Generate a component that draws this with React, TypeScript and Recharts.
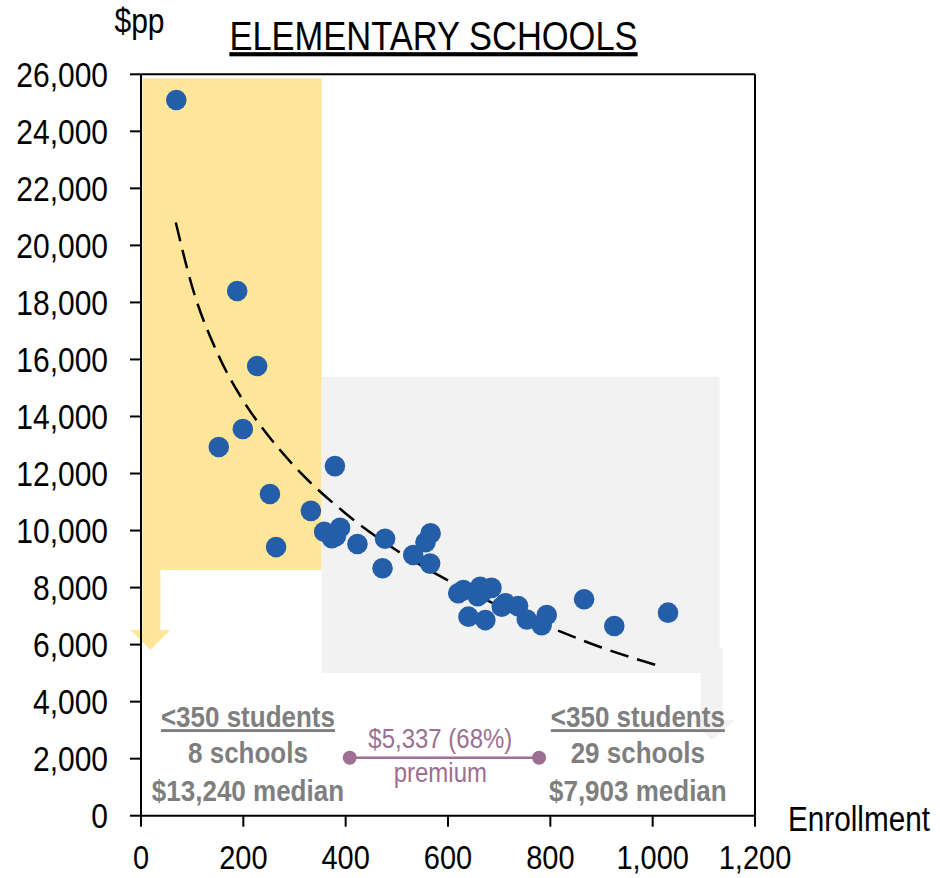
import React from "react";
import {
  ComposedChart,
  Scatter,
  Line,
  XAxis,
  YAxis,
  ReferenceArea,
  ReferenceLine,
  ReferenceDot,
} from "recharts";

const FONT = "'Liberation Sans', Arial, Helvetica, sans-serif";
const BLUE = "#255EA8";
const YELLOW = "#FFE699";
const GREY_FILL = "#F2F2F2";
const NOTE = "#7F7F7F";
const PURPLE = "#9C6F93";

// schools: enrollment vs spend per pupil
const enrollment = [
  69, 188, 227, 152, 199, 252, 264, 332, 379, 358, 373, 389, 381, 423, 477, 472,
  532, 556, 566, 565, 620, 630, 640, 663, 666, 658, 673, 685, 705, 712, 737, 754,
  783, 793, 866, 925, 1030,
];
const spendPerPupil = [
  25100, 18400, 15770, 12930, 13560, 11280, 9420, 10690, 12260, 9960, 9730, 10100,
  9800, 9530, 9710, 8680, 9140, 9590, 9900, 8840, 7800, 7910, 6980, 8030, 7800,
  7700, 6860, 7990, 7330, 7450, 7350, 6880, 6680, 7040, 7590, 6650, 7120,
];

// dashed trend line
const trendEnrollment = [68, 100, 150, 200, 250, 300, 400, 500, 600, 700, 800, 900, 1013];
const trendSpend = [20800, 18550, 16200, 14550, 13300, 12250, 10600, 9300, 8250, 7350, 6600, 5900, 5250];

const xTicks = [0, 200, 400, 600, 800, 1000, 1200];
const yTicks = [0, 2000, 4000, 6000, 8000, 10000, 12000, 14000, 16000, 18000, 20000, 22000, 24000, 26000];

// shaded bands (data units)
const smallBand = { x1: 3, x2: 353, y1: 8615, y2: 25860 };
const smallArrowStem = { x1: 3, x2: 38, y1: 6510, y2: 8615 };
const smallArrowHead = { x1: -21, x2: 57, tip: 18, y1: 5810, y2: 6510 };
const largeBand = { x1: 353, x2: 1131, y1: 5000, y2: 15390 };
const largeArrowStem = { x1: 1094, x2: 1137, y1: 3360, y2: 5880 };
const largeArrowHead = { x1: 1075, x2: 1160, tip: 1116, y1: 2655, y2: 3360 };

const leftNote = ["<350 students", "8 schools", "$13,240 median"];
const rightNote = ["<350 students", "29 schools", "$7,903 median"];
const noteAt = { leftX: 209, rightX: 971, y: 3110 };
const premiumNote = ["$5,337 (68%)", "premium"];
const premium = { x1: 408, x2: 778, mid: 585, y: 2034 };

const points = enrollment.map((x, i) => ({ x, y: spendPerPupil[i] }));
const trend = trendEnrollment.map((x, i) => ({ x, y: trendSpend[i] }));

const fmt = (v: number) => v.toLocaleString("en-US");

const YTick = (props: any) => {
  const { x, y, payload } = props;
  return (
    <text
      transform={`translate(${x},${y}) scale(1,1.17)`}
      textAnchor="end"
      dy="0.36em"
      fontSize={30}
      fontFamily={FONT}
      fill="#000"
    >
      {fmt(payload.value)}
    </text>
  );
};

const XTick = (props: any) => {
  const { x, y, payload } = props;
  return (
    <text
      transform={`translate(${x},${y}) scale(1,1.15)`}
      textAnchor="middle"
      dy="0.71em"
      fontSize={29}
      fontFamily={FONT}
      fill="#000"
    >
      {fmt(payload.value)}
    </text>
  );
};

// triangle drawn inside the ReferenceArea box, tip pointing down
const headShape = (head: { x1: number; x2: number; tip: number }, fill: string) => (p: any) => {
  const { x, y, width, height } = p;
  const tipX = x + ((head.tip - head.x1) / (head.x2 - head.x1)) * width;
  return (
    <polygon
      points={`${x},${y} ${x + width},${y} ${tipX},${y + height}`}
      fill={fill}
    />
  );
};

const noteBlock = (lines: string[]) => (p: any) => {
  const { cx, cy } = p;
  const offsets = [0, 36, 74];
  return (
    <g>
      {lines.map((t, i) => (
        <text
          key={i}
          transform={`translate(${cx},${cy + offsets[i]}) scale(1,1.12)`}
          textAnchor="middle"
          fontSize={26}
          fontWeight="bold"
          fontFamily={FONT}
          fill={NOTE}
          style={i === 0 ? { textDecoration: "underline" } : undefined}
        >
          {t}
        </text>
      ))}
    </g>
  );
};

const premiumBlock = (p: any) => {
  const { cx, cy } = p;
  return (
    <g>
      <text
        transform={`translate(${cx},${cy - 10}) scale(1,1.15)`}
        textAnchor="middle"
        fontSize={24}
        fontFamily={FONT}
        fill={PURPLE}
      >
        {premiumNote[0]}
      </text>
      <text
        transform={`translate(${cx},${cy + 24}) scale(1,1.15)`}
        textAnchor="middle"
        fontSize={24}
        fontFamily={FONT}
        fill={PURPLE}
      >
        {premiumNote[1]}
      </text>
    </g>
  );
};

export default function App() {
  return (
    <div style={{ position: "absolute", left: 0, top: 0, width: 940, height: 878, background: "#fff" }}>
      <ComposedChart
        width={940}
        height={878}
        margin={{ top: 74.3, right: 185, bottom: 12.3, left: 0 }}
      >
        <XAxis
          dataKey="x"
          type="number"
          domain={[0, 1200]}
          ticks={xTicks}
          interval={0}
          height={50}
          tickSize={11}
          tickMargin={19}
          axisLine={{ stroke: "#000", strokeWidth: 2 }}
          tickLine={{ stroke: "#000", strokeWidth: 2 }}
          tick={<XTick />}
        />
        <YAxis
          type="number"
          domain={[0, 26000]}
          ticks={yTicks}
          interval={0}
          width={141}
          tickSize={11}
          tickMargin={22}
          axisLine={{ stroke: "#000", strokeWidth: 2 }}
          tickLine={{ stroke: "#000", strokeWidth: 2 }}
          tick={<YTick />}
        />

        <ReferenceArea {...smallBand} fill={YELLOW} fillOpacity={1} ifOverflow="visible" />
        <ReferenceArea {...smallArrowStem} fill={YELLOW} fillOpacity={1} ifOverflow="visible" />
        <ReferenceArea
          x1={smallArrowHead.x1}
          x2={smallArrowHead.x2}
          y1={smallArrowHead.y1}
          y2={smallArrowHead.y2}
          ifOverflow="visible"
          shape={headShape(smallArrowHead, YELLOW)}
        />
        <ReferenceArea {...largeBand} fill={GREY_FILL} fillOpacity={1} ifOverflow="visible" />
        <ReferenceArea {...largeArrowStem} fill={GREY_FILL} fillOpacity={1} ifOverflow="visible" />
        <ReferenceArea
          x1={largeArrowHead.x1}
          x2={largeArrowHead.x2}
          y1={largeArrowHead.y1}
          y2={largeArrowHead.y2}
          ifOverflow="visible"
          shape={headShape(largeArrowHead, GREY_FILL)}
        />

        <ReferenceLine y={26000} stroke="#000" strokeWidth={2} ifOverflow="visible" />
        <ReferenceLine x={1200} stroke="#000" strokeWidth={2} ifOverflow="visible" />

        <Scatter
          data={points}
          dataKey="y"
          fill={BLUE}
          isAnimationActive={false}
          shape={(p: any) => <circle cx={p.cx} cy={p.cy} r={10.3} fill={BLUE} />}
        />
        <Line
          data={trend}
          dataKey="y"
          type="monotone"
          stroke="#000"
          strokeWidth={2.5}
          strokeDasharray="19 9"
          dot={false}
          activeDot={false}
          isAnimationActive={false}
        />

        <ReferenceLine
          segment={[
            { x: premium.x1, y: premium.y },
            { x: premium.x2, y: premium.y },
          ]}
          stroke={PURPLE}
          strokeWidth={2.5}
        />
        <ReferenceDot x={premium.x1} y={premium.y} r={7} fill={PURPLE} stroke="none" />
        <ReferenceDot x={premium.x2} y={premium.y} r={7} fill={PURPLE} stroke="none" />
        <ReferenceDot x={premium.mid} y={premium.y} r={0} shape={premiumBlock} />
        <ReferenceDot x={noteAt.leftX} y={noteAt.y} r={0} shape={noteBlock(leftNote)} />
        <ReferenceDot x={noteAt.rightX} y={noteAt.y} r={0} shape={noteBlock(rightNote)} />
      </ComposedChart>

      <svg
        width={940}
        height={878}
        style={{ position: "absolute", left: 0, top: 0, pointerEvents: "none" }}
      >
        <text
          transform="translate(139.5,33) scale(1,1.15)"
          textAnchor="middle"
          fontSize={30}
          fontFamily={FONT}
          fill="#000"
        >
          $pp
        </text>
        <text
          transform="translate(433.5,50) scale(1,1.2)"
          textAnchor="middle"
          fontSize={34.5}
          fontFamily={FONT}
          fill="#000"
          style={{ textDecoration: "underline" }}
        >
          ELEMENTARY SCHOOLS
        </text>
        <text
          transform="translate(788,831) scale(1,1.2)"
          fontSize={29.7}
          fontFamily={FONT}
          fill="#000"
        >
          Enrollment
        </text>
      </svg>
    </div>
  );
}
